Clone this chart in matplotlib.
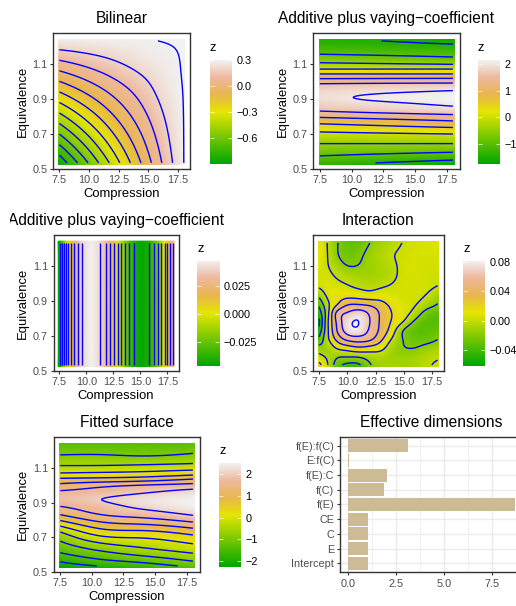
import numpy as np
import matplotlib
matplotlib.use('agg')
import matplotlib.pyplot as plt
from matplotlib.colors import LinearSegmentedColormap, Normalize
from matplotlib.transforms import Bbox

W, H = 516, 606
plt.rcParams['font.family'] = ['Liberation Sans', 'DejaVu Sans']
plt.rcParams['contour.negative_linestyle'] = 'solid'

# R terrain.colors stretched as the fill scale of the panels
terrain = LinearSegmentedColormap.from_list('terrain_r', [(0, '#00A600'), (0.5, '#E6E600'), (0.667, '#EAB64E'),
                                                          (0.833, '#EEB99F'), (1, '#F2F2F2')])

# bilinear
bil_comp = [7.5, 10, 12.5, 15, 17, 18]
bil_equiv = [0.535, 0.7, 0.85, 1.0, 1.15, 1.232]
bil_z = [[-0.872, -0.591, -0.311, -0.030, 0.195, 0.3005],
         [-0.599, -0.382, -0.165, 0.052, 0.226, 0.301],
         [-0.350, -0.191, -0.032, 0.127, 0.254, 0.302],
         [-0.101, 0.000, 0.100, 0.201, 0.282, 0.303],
         [0.148, 0.190, 0.233, 0.275, 0.295, 0.304],
         [0.284, 0.290, 0.294, 0.298, 0.303, 0.305]]
bil_levels = [-0.8, -0.7, -0.6, -0.5, -0.4, -0.3, -0.2, -0.1, 0, 0.1, 0.2, 0.3]

# additive plus varying coefficient, equivalence
vce_comp = [7.5, 10.2, 18]
vce_equiv = [0.535, 0.575, 0.645, 0.705, 0.75, 0.79, 0.83, 0.87, 0.905,
             0.945, 0.99, 1.017, 1.043, 1.071, 1.10, 1.15, 1.20, 1.232]
vce_z = [[-1.37, -1.45, -1.68],
         [-1.00, -1.06, -1.23],
         [-0.50, -0.50, -0.50],
         [-0.06, -0.03, 0.06],
         [0.40, 0.47, 0.68],
         [0.93, 1.00, 1.20],
         [1.49, 1.56, 1.75],
         [1.78, 1.85, 2.06],
         [1.90, 2.00, 2.15],
         [1.82, 1.88, 2.02],
         [1.46, 1.48, 1.52],
         [0.98, 0.99, 1.02],
         [0.50, 0.50, 0.50],
         [0.00, 0.00, 0.00],
         [-0.41, -0.44, -0.53],
         [-0.95, -0.98, -1.08],
         [-1.30, -1.33, -1.41],
         [-1.45, -1.47, -1.62]]
vce_levels = [-1.5, -1, -0.5, 0, 0.5, 1, 1.5, 2]

# additive plus varying coefficient, compression
vcc_comp = [7.5, 7.59, 7.78, 7.94, 8.12, 8.31, 8.57, 8.81, 9.19, 9.63, 10.45, 11.28, 11.85, 12.22,
            12.6, 12.91, 13.22, 13.56, 13.94, 14.4, 15.1, 15.81, 16.25, 16.63, 16.94, 17.25, 17.5, 17.75, 17.98, 18]
vcc_z = [-0.046, -0.04, -0.03, -0.02, -0.01, 0, 0.01, 0.02, 0.03, 0.04, 0.0475, 0.04, 0.03, 0.02,
         0.01, 0, -0.01, -0.02, -0.03, -0.04, -0.0467, -0.04, -0.03, -0.02, -0.01, 0, 0.01, 0.02, 0.03, 0.0315]
vcc_levels = [-0.04, -0.03, -0.02, -0.01, 0, 0.01, 0.02, 0.03, 0.04]

# interaction
int_comp = [7.5, 8.25, 9, 10, 11, 12, 13, 14, 15, 16, 17, 18]
int_equiv = [0.535, 0.58, 0.63, 0.68, 0.73, 0.78, 0.83, 0.88, 0.93, 0.98, 1.04, 1.10, 1.16, 1.232]
int_z = [[0.026, 0.001, -0.027, -0.045, -0.043, -0.022, -0.012, -0.011, -0.012, -0.009, -0.003, 0.003],
         [0.008, -0.004, -0.017, -0.020, -0.019, -0.012, -0.009, -0.012, -0.013, -0.010, -0.005, -0.002],
         [-0.012, -0.012, 0.000, 0.009, 0.015, 0.012, 0.005, -0.012, -0.019, -0.0195, -0.013, -0.009],
         [-0.034, -0.005, 0.022, 0.044, 0.049, 0.043, 0.023, -0.003, -0.021, -0.028, -0.027, -0.020],
         [-0.052, -0.004, 0.036, 0.068, 0.074, 0.056, 0.034, 0.008, -0.021, -0.033, -0.033, -0.030],
         [-0.063, -0.004, 0.040, 0.073, 0.080, 0.060, 0.036, 0.017, -0.002, -0.024, -0.034, -0.035],
         [-0.050, -0.007, 0.041, 0.062, 0.070, 0.056, 0.036, 0.019, 0.007, -0.008, -0.027, -0.032],
         [-0.036, -0.005, 0.017, 0.038, 0.040, 0.036, 0.027, 0.014, 0.006, 0.001, -0.010, -0.021],
         [-0.015, 0.003, 0.012, 0.014, 0.012, 0.009, 0.010, 0.006, 0.004, 0.003, -0.001, -0.012],
         [0.001, 0.006, 0.006, 0.002, -0.002, -0.004, -0.001, 0.002, 0.004, 0.004, 0.003, -0.001],
         [0.005, 0.004, -0.001, -0.007, -0.010, -0.011, -0.009, -0.003, 0.004, 0.004, 0.003, 0.002],
         [0.008, 0.001, -0.009, -0.0195, -0.019, -0.013, -0.008, -0.003, 0.004, 0.005, 0.004, 0.004],
         [0.012, 0.000, -0.016, -0.027, -0.024, -0.014, -0.007, -0.001, 0.003, 0.005, 0.005, 0.005],
         [0.016, -0.001, -0.017, -0.030, -0.032, -0.020, -0.012, -0.006, 0.001, 0.004, 0.006, 0.008]]
int_levels = [-0.06, -0.04, -0.02, 0, 0.02, 0.04, 0.06, 0.08]

# fitted surface
fit_comp = [7.5, 10.8, 14, 18]
fit_equiv = [0.535, 0.56, 0.60, 0.64, 0.68, 0.72, 0.76, 0.80, 0.84, 0.88, 0.92,
             0.96, 1.00, 1.03, 1.06, 1.09, 1.13, 1.18, 1.232]
fit_z = [[-2.23, -1.97, -1.75, -1.38],
         [-1.98, -1.64, -1.42, -1.03],
         [-1.59, -1.21, -0.92, -0.58],
         [-1.28, -0.79, -0.50, -0.20],
         [-0.98, -0.33, -0.15, 0.16],
         [-0.62, 0.17, 0.27, 0.58],
         [-0.06, 0.65, 0.79, 1.11],
         [0.56, 1.16, 1.35, 1.67],
         [1.13, 1.59, 1.80, 2.15],
         [1.52, 1.82, 2.15, 2.47],
         [1.78, 2.00, 2.27, 2.48],
         [1.58, 1.72, 1.93, 2.20],
         [1.12, 1.35, 1.50, 1.65],
         [0.66, 0.73, 0.84, 1.10],
         [0.15, 0.21, 0.27, 0.46],
         [-0.26, -0.24, -0.17, -0.05],
         [-0.66, -0.65, -0.64, -0.56],
         [-1.04, -1.03, -1.09, -0.98],
         [-1.35, -1.35, -1.35, -1.32]]
fit_levels = [-2, -1.5, -1, -0.5, 0, 0.5, 1, 1.5, 2]

# effective dimensions
terms = ['Intercept', 'E', 'C', 'CE', 'f(E)', 'f(C)', 'f(E):C', 'E:f(C)', 'f(E):f(C)']
dims = [1.04, 1.04, 1.04, 1.04, 8.7, 1.875, 2.03, 0.05, 3.125]

comp_ticks = [7.5, 10, 12.5, 15, 17.5]
comp_labels = ['7.5', '10.0', '12.5', '15.0', '17.5']
equiv_ticks = [0.5, 0.7, 0.9, 1.1]
equiv_labels = ['0.5', '0.7', '0.9', '1.1']
dim_ticks = [0, 2.5, 5, 7.5]
dim_labels = ['0.0', '2.5', '5.0', '7.5']

fig = plt.figure(figsize=(W / 100, H / 100), dpi=100)


def px_axes(x0, y0, x1, y1):
    return fig.add_axes([x0 / W, 1 - y1 / H, (x1 - x0) / W, (y1 - y0) / H])


def spline(x, y, xi):
    # natural cubic spline along the first axis of y, smooths the coarse tables for drawing
    h = np.diff(x)
    n = len(x)
    A = np.zeros((n, n))
    A[0, 0] = A[-1, -1] = 1
    b = np.zeros_like(y)
    for i in range(1, n - 1):
        A[i, i - 1:i + 2] = h[i - 1], 2 * (h[i - 1] + h[i]), h[i]
        b[i] = 6 * ((y[i + 1] - y[i]) / h[i] - (y[i] - y[i - 1]) / h[i - 1])
    m = np.linalg.solve(A, b)
    k = np.clip(np.searchsorted(x, xi) - 1, 0, n - 2)
    hk = h[k][:, None]
    a = (x[k + 1] - xi)[:, None]
    c = (xi - x[k])[:, None]
    return (m[k] * a ** 3 + m[k + 1] * c ** 3) / (6 * hk) + (y[k] / hk - m[k] * hk / 6) * a + (y[k + 1] / hk - m[k + 1] * hk / 6) * c


def style_panel(ax, title):
    for s in ax.spines.values():
        s.set_color('#333333')
        s.set_linewidth(1.0)
    ax.tick_params(colors='#333333', labelcolor='#4D4D4D', labelsize=7.8, length=2, width=0.8, pad=2)
    t = ax.set_title(title, fontsize=11.2, color='black', pad=7)
    return t


def style_surface(ax, title):
    ax.set_xlim(6.96, 18.52)
    ax.set_ylim(0.5, 1.277)
    ax.set_xticks(comp_ticks, comp_labels)
    ax.set_yticks(equiv_ticks, equiv_labels)
    ax.set_xlabel('Compression', fontsize=9.4, labelpad=2.5)
    ax.set_ylabel('Equivalence', fontsize=9.4, labelpad=2.5)
    return style_panel(ax, title)


def draw_surface(ax, comp, equiv, z, levels, vmin, vmax):
    comp = np.array(comp, dtype=float)
    equiv = np.array(equiv, dtype=float)
    z = np.array(z, dtype=float)
    xi = np.linspace(comp[0], comp[-1], 260)
    yi = np.linspace(equiv[0], equiv[-1], 260)
    ZI = spline(comp, spline(equiv, z, yi).T, xi).T
    ax.imshow(ZI, origin='lower', extent=[comp[0] - 0.1, comp[-1] + 0.1, equiv[0] - 0.01, equiv[-1] + 0.01],
              aspect='auto', cmap=terrain, norm=Normalize(vmin, vmax), interpolation='bilinear')
    ax.contour(xi, yi, ZI, levels=levels, colors='#0000FF', linewidths=1.0)


def colorbar(x0, y0, x1, y1, vmin, vmax, ticks, labels):
    cax = px_axes(x0, y0, x1, y1)
    grad = np.linspace(vmin, vmax, 256)[:, None]
    cax.imshow(grad, origin='lower', extent=[0, 1, vmin, vmax], aspect='auto', cmap=terrain, norm=Normalize(vmin, vmax))
    cax.set_xticks([])
    cax.set_yticks(ticks, labels)
    cax.tick_params(axis='y', direction='in', left=True, right=True, labelleft=False, labelright=True,
                    color='white', length=3.2, width=0.5, labelsize=7.8, labelcolor='black', pad=3)
    for s in cax.spines.values():
        s.set_visible(False)
    fig.text(x0 / W, 1 - (y0 - 12) / H, 'z', fontsize=9.4, va='center', ha='left')


# Bilinear
ax = px_axes(53, 33, 190, 169)
draw_surface(ax, bil_comp, bil_equiv, bil_z, bil_levels, -0.895, 0.305)
style_surface(ax, 'Bilinear')
colorbar(210, 60, 232, 164, -0.895, 0.305, [0.3, 0, -0.3, -0.6], ['0.3', '0.0', '\u22120.3', '\u22120.6'])

# Additive plus varying-coefficient in equivalence
ax = px_axes(313, 33, 459.5, 169)
draw_surface(ax, vce_comp, vce_equiv, vce_z, vce_levels, -1.75, 2.15)
style_surface(ax, 'Additive plus vaying\u2212coefficient')
colorbar(478, 60, 500, 164, -1.75, 2.15, [2, 1, 0, -1], ['2', '1', '0', '\u22121'])

# Additive plus varying-coefficient in compression
ax = px_axes(53.5, 235, 178.5, 371)
fill_x = np.array(vcc_comp)
fill_x[0] -= 0.1
fill_x[-1] += 0.1
z2 = np.vstack([vcc_z, vcc_z])
ax.pcolormesh(fill_x, [0.525, 1.242], z2, shading='gouraud', cmap=terrain, norm=Normalize(-0.0467, 0.0475))
ax.contour(vcc_comp, [0.535, 1.232], z2, levels=vcc_levels, colors='#0000FF', linewidths=1.0)
t3 = style_surface(ax, 'Additive plus vaying\u2212coefficient')
t3.set_clip_box(Bbox([[10, 0], [W, H]]))
t3.set_clip_on(True)
colorbar(197, 261, 219, 366, -0.0467, 0.0475, [0.025, 0, -0.025], ['0.025', '0.000', '\u22120.025'])

# Interaction
ax = px_axes(313, 235, 443.5, 371)
draw_surface(ax, int_comp, int_equiv, int_z, int_levels, -0.0625, 0.0818)
style_surface(ax, 'Interaction')
colorbar(463, 261, 485, 366, -0.0625, 0.0818, [0.08, 0.04, 0, -0.04], ['0.08', '0.04', '0.00', '\u22120.04'])

# Fitted surface
ax = px_axes(53.5, 437, 199.5, 572)
draw_surface(ax, fit_comp, fit_equiv, fit_z, fit_levels, -2.28, 2.52)
style_surface(ax, 'Fitted surface')
colorbar(219, 463, 241, 567, -2.28, 2.52, [2, 1, 0, -1, -2], ['2', '1', '0', '\u22121', '\u22122'])

# Effective dimensions, right edge of the panel runs off the image
ax = px_axes(339.7, 437, 523, 572)
ypos = np.arange(len(terms))
ax.barh(ypos, dims, height=0.9, color='#CDBB95', zorder=3)
ax.set_xlim(-0.435, 9.135)
ax.set_ylim(-0.6, 8.6)
ax.set_yticks(ypos, terms)
ax.set_xticks(dim_ticks, dim_labels)
ax.set_xticks([1.25, 3.75, 6.25, 8.75], minor=True)
ax.grid(True, which='major', color='#EBEBEB', linewidth=1.0, zorder=0)
ax.grid(True, which='minor', axis='x', color='#EBEBEB', linewidth=0.5, zorder=0)
ax.tick_params(which='minor', length=0)
style_panel(ax, 'Effective dimensions')
ax.tick_params(axis='x', which='major', pad=3)

fig.savefig('out.png', dpi=100)
